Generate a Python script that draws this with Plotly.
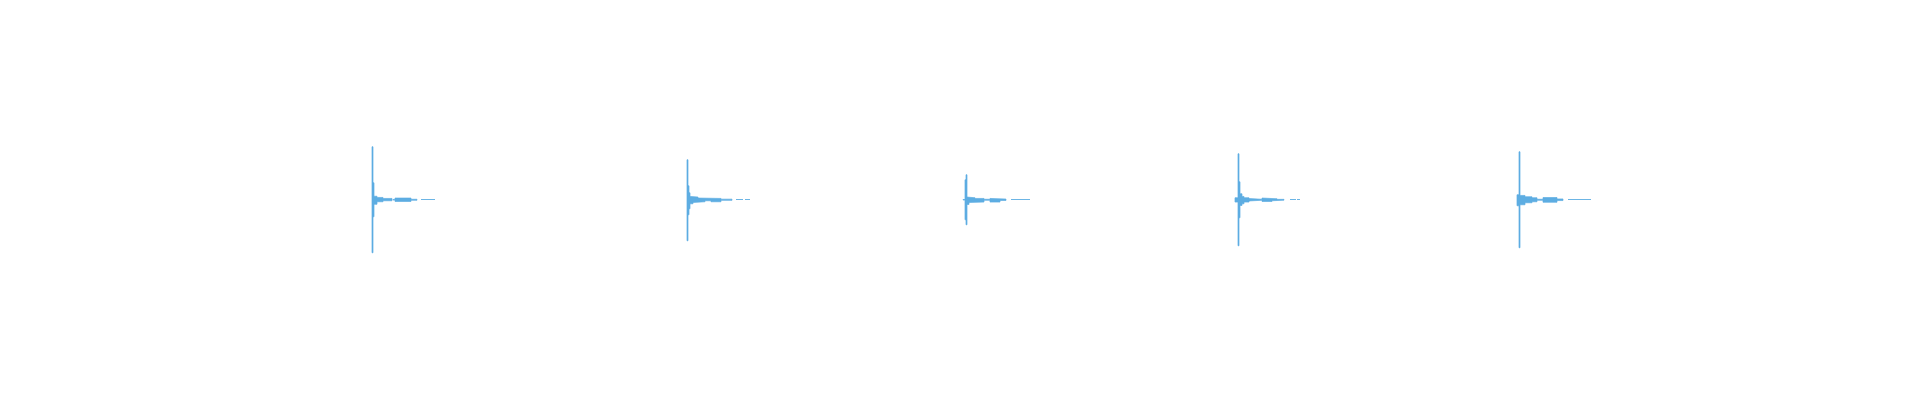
import plotly.graph_objects as go

# Onset time of each sound clip (ms)
onsets_ms = [372, 687, 966, 1238, 1519]

# Envelope of each clip: bin edges (ms from onset), upper and lower amplitude per bin (None = silence gap)
clip1_edges = [0, 1, 2, 5, 11, 20, 21, 23, 39, 45, 49, 63]
clip1_hi = [1.06, 0.34, 0.07, 0.046, 0.026, None, 0.006, 0.034, 0.01, None, 0.005]
clip1_lo = [-1.06, -0.34, -0.09, -0.04, -0.02, None, -0.006, -0.034, -0.01, None, -0.005]

clip2_edges = [0, 1, 2, 3, 6, 11, 18, 24, 34, 45, 49, 56, 58, 63]
clip2_hi = [0.8, 0.28, 0.14, 0.066, 0.054, 0.034, 0.02, 0.026, 0.012, None, 0.005, None, 0.005]
clip2_lo = [-0.82, -0.3, -0.18, -0.08, -0.054, -0.04, -0.02, -0.04, -0.012, None, -0.005, None, -0.005]

clip3_edges = [-3, -1, 0, 1, 3, 9, 18, 24, 34, 40, 45, 64]
clip3_hi = [0.005, 0.4, 0.5, 0.054, 0.04, 0.026, 0.01, 0.026, 0.014, None, 0.005]
clip3_lo = [-0.005, -0.4, -0.5, -0.094, -0.054, -0.046, -0.01, -0.046, -0.014, None, -0.005]

clip4_edges = [-3, 0, 1, 2, 4, 6, 11, 18, 24, 34, 39, 46, 52, 58, 59, 62]
clip4_hi = [0.04, 0.92, 0.36, 0.12, 0.066, 0.04, 0.024, 0.01, 0.034, 0.02, 0.008, None, 0.005, None, 0.005]
clip4_lo = [-0.046, -0.92, -0.36, -0.114, -0.08, -0.046, -0.024, -0.01, -0.034, -0.02, -0.008, None, -0.005, None, -0.005]

clip5_edges = [-2, 0, 1, 6, 13, 18, 24, 38, 44, 49, 72]
clip5_hi = [0.1, 0.96, 0.086, 0.06, 0.04, 0.01, 0.044, 0.016, None, 0.005]
clip5_lo = [-0.12, -0.96, -0.1, -0.06, -0.04, -0.01, -0.05, -0.016, None, -0.005]

COLOR = "#5DADE2"

clips = [
    (clip1_edges, clip1_hi, clip1_lo),
    (clip2_edges, clip2_hi, clip2_lo),
    (clip3_edges, clip3_hi, clip3_lo),
    (clip4_edges, clip4_hi, clip4_lo),
    (clip5_edges, clip5_hi, clip5_lo),
]

fig = go.Figure()
for onset, (edges, hi, lo) in zip(onsets_ms, clips):
    runs, cur = [], []
    for i, (h, l) in enumerate(zip(hi, lo)):
        if h is None:
            if cur:
                runs.append(cur)
                cur = []
            continue
        cur.append((onset + edges[i], onset + edges[i + 1], h, l))
    if cur:
        runs.append(cur)
    xs, ys = [], []
    for run in runs:
        px, py = [], []
        for t0, t1, h, l in run:
            px += [t0, t1]
            py += [h, h]
        for t0, t1, h, l in reversed(run):
            px += [t1, t0]
            py += [l, l]
        px.append(px[0])
        py.append(py[0])
        if xs:
            xs.append(None)
            ys.append(None)
        xs += px
        ys += py
    fig.add_trace(go.Scatter(
        x=xs, y=ys, mode="lines", fill="toself", fillcolor=COLOR,
        line=dict(color=COLOR, width=0.7), hoverinfo="skip", showlegend=False,
    ))

# the page body has an 8px margin, so the figure is 1904x384 and the ranges are offset to match
fig.update_layout(
    width=1904, height=384,
    margin=dict(l=0, r=0, t=0, b=0),
    paper_bgcolor="white", plot_bgcolor="white",
    xaxis=dict(visible=False, range=[8, 1912]),
    yaxis=dict(visible=False, range=[-3.845, 3.835]),
)

fig.write_html("out.html")
